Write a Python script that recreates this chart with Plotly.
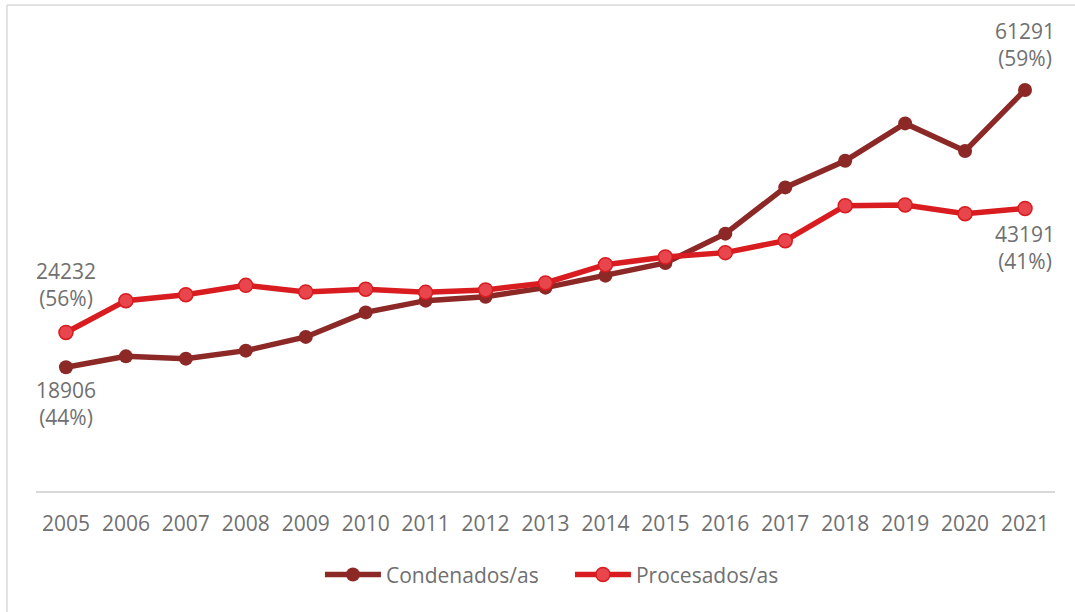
import plotly.graph_objects as go

# Annual counts, 2005-2021
years = [str(y) for y in range(2005, 2022)]
condenados = [18906, 20580, 20230, 21450, 23550, 27300, 29090, 29700, 31080,
              32910, 34850, 39330, 46400, 50480, 56180, 51970, 61291]
procesados = [24232, 29090, 30010, 31430, 30420, 30850, 30360, 30730, 31800,
              34590, 35770, 36430, 38260, 43610, 43720, 42390, 43191]

DARK = "#8C2826"
RED = "#D81C20"
RED_FILL = "#E8464C"
GREY_TXT = "#707070"
FONT = "Open Sans"
FS = 21

fig = go.Figure()
fig.add_trace(go.Scatter(
    x=years, y=condenados, name="Condenados/as", mode="lines+markers",
    line=dict(color=DARK, width=5.5),
    marker=dict(size=14, color=DARK, line=dict(width=0)),
))
fig.add_trace(go.Scatter(
    x=years, y=procesados, name="Procesados/as", mode="lines+markers",
    line=dict(color=RED, width=5.5),
    marker=dict(size=14, color=RED_FILL, line=dict(width=1.5, color=RED)),
))


def share(a, b):
    return round(100 * a / (a + b))


# End-point labels with the share of the yearly total
first, last = 0, len(years) - 1
labels = [
    (first, procesados[first], share(procesados[first], condenados[first]), "bottom", 18),
    (first, condenados[first], share(condenados[first], procesados[first]), "top", -7),
    (last, condenados[last], share(condenados[last], procesados[last]), "bottom", 16),
    (last, procesados[last], share(procesados[last], condenados[last]), "top", -10),
]
for i, y, pct, anchor, shift in labels:
    fig.add_annotation(
        x=i, y=y, text=f"{y}<br>({pct}%)", showarrow=False,
        xanchor="center", yanchor=anchor, yshift=shift,
        font=dict(family=FONT, size=FS, color=GREY_TXT), align="center",
    )

# Light frame around the chart area
fig.add_shape(type="line", xref="paper", yref="paper",
              x0=-0.0285, x1=1.1, y0=1.0611, y1=1.0611,
              line=dict(color="#D9D9D9", width=1.5))
fig.add_shape(type="line", xref="paper", yref="paper",
              x0=-0.0285, x1=-0.0285, y0=1.0611, y1=-0.3,
              line=dict(color="#D9D9D9", width=1.5))

fig.update_layout(
    width=1075, height=612,
    margin=dict(l=36, r=20, t=33, b=121),
    paper_bgcolor="white", plot_bgcolor="white",
    font=dict(family=FONT, size=FS, color=GREY_TXT),
    showlegend=True,
    legend=dict(orientation="h", x=0.524, xanchor="center", y=-0.183,
                yanchor="middle", itemwidth=56, entrywidth=179,
                font=dict(family=FONT, size=FS, color=GREY_TXT),
                tracegroupgap=0),
    xaxis=dict(type="category", range=[-0.5, 16.5], showgrid=False,
               showline=True, linecolor="#D9D9D9", linewidth=1.5,
               ticks="", ticklabelstandoff=13,
               tickfont=dict(family=FONT, size=FS, color=GREY_TXT)),
    yaxis=dict(range=[0, 70000], showgrid=False, showline=False,
               showticklabels=False, zeroline=False, ticks=""),
)

fig.write_html("out.html")
